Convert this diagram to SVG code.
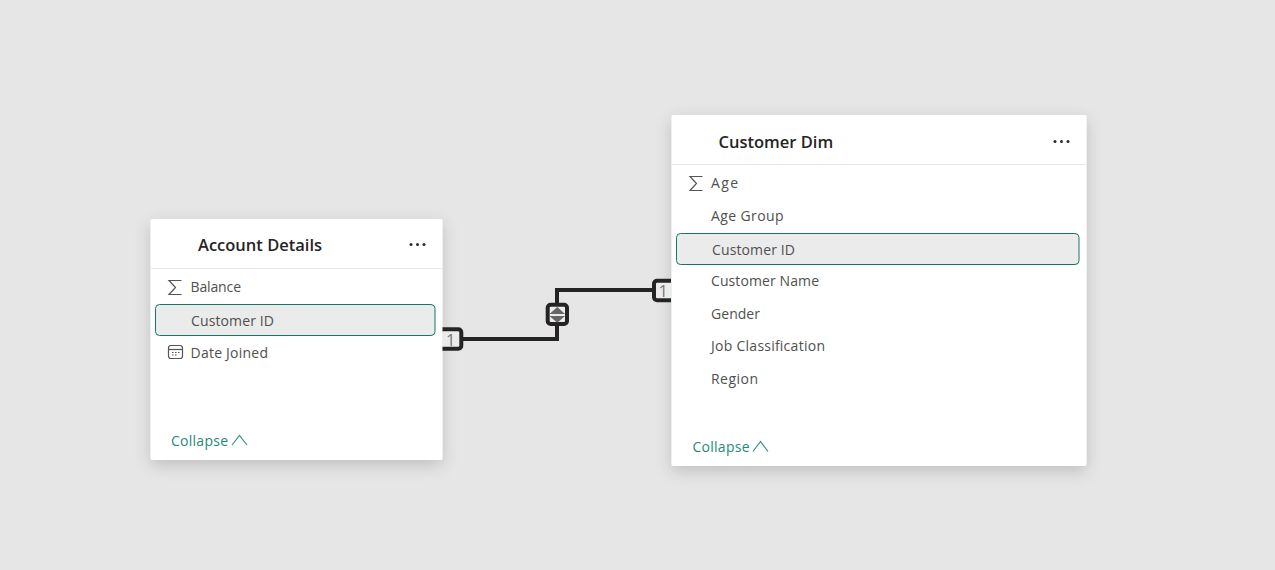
<svg xmlns="http://www.w3.org/2000/svg" width="1275" height="570" viewBox="0 0 1275 570">
<style>
text{font-family:"Open Sans","Noto Sans","Liberation Sans",sans-serif}
.card{fill:#fff}
.title{font-size:16.5px;font-weight:600;fill:#252423}
.f{font-size:14px;fill:#505050}
.sel{fill:#ebebeb;stroke:#117865;stroke-width:1}
.div{stroke:#e9e9e9;stroke-width:1}
.col{font-size:14px;fill:#1f8a78}
.chev{fill:none;stroke:#2f9484;stroke-width:1.2}
.ic{fill:none;stroke:#555;stroke-width:1.2}
.dot{fill:#2a2a2a}
.wire{fill:none;stroke:#252423;stroke-width:4}
.badge{fill:#ececec;stroke:#252423;stroke-width:4}
.one{font-size:16.500px;fill:#777;text-anchor:middle}
</style>
<defs>
<filter id="sh" x="-15%" y="-15%" width="130%" height="130%"><feDropShadow dx="0" dy="5" stdDeviation="8" flood-color="#000" flood-opacity="0.17"/></filter>
<path id="sigma" d="M13.500 2.500H1L7.500 9.500 1 16.500H13.500" class="ic"/>
</defs>
<rect width="1275" height="570" fill="#e6e6e6"/>
<g id="account-details">
<rect class="card" x="150.500" y="219" width="292" height="241" rx="2" filter="url(#sh)"/>
<text class="title" x="198" y="250.500">Account Details</text>
<g class="dot"><circle cx="411" cy="244.500" r="1.500"/><circle cx="417.500" cy="244.500" r="1.500"/><circle cx="424" cy="244.500" r="1.500"/></g>
<line class="div" x1="150.500" y1="268.500" x2="442.500" y2="268.500"/>
<use href="#sigma" x="168" y="278"/>
<text class="f" x="190.500" y="292" textLength="50.500">Balance</text>
<rect class="sel" x="155.500" y="304.500" width="279.500" height="31" rx="4"/>
<text class="f" x="191" y="325.500" textLength="83">Customer ID</text>
<g>
<rect class="ic" x="168.500" y="345.500" width="14" height="13" rx="2.500"/>
<line class="ic" x1="168.500" y1="349.500" x2="182.500" y2="349.500"/>
<path d="M172 352.500h1.500M175 352.500h1.500M178 352.500h1.500M172 355h1.500M175 355h1.500" stroke="#555" stroke-width="1.200"/>
</g>
<text class="f" x="190.500" y="357.500" textLength="77.500">Date Joined</text>
<text class="col" x="171" y="445.500" textLength="57">Collapse</text>
<path class="chev" d="M232 445 239.500 435.500 247 445"/>
</g>
<g id="customer-dim">
<rect class="card" x="671.500" y="115" width="415" height="351" rx="2" filter="url(#sh)"/>
<text class="title" x="718.500" y="147.500">Customer Dim</text>
<g class="dot"><circle cx="1055" cy="141.500" r="1.500"/><circle cx="1061.500" cy="141.500" r="1.500"/><circle cx="1068" cy="141.500" r="1.500"/></g>
<line class="div" x1="671.500" y1="164.500" x2="1086.500" y2="164.500"/>
<use href="#sigma" x="689" y="174"/>
<text class="f" x="711" y="188" textLength="27">Age</text>
<text class="f" x="711" y="220.500" textLength="72.500">Age Group</text>
<rect class="sel" x="676.500" y="233.500" width="402.500" height="31" rx="4"/>
<text class="f" x="712" y="254.500" textLength="83">Customer ID</text>
<text class="f" x="711" y="285.500" textLength="108">Customer Name</text>
<text class="f" x="711" y="318.500" textLength="49">Gender</text>
<text class="f" x="711" y="350.500" textLength="114">Job Classification</text>
<text class="f" x="711" y="383.500" textLength="47">Region</text>
<text class="col" x="692.500" y="451.500" textLength="57">Collapse</text>
<path class="chev" d="M753 451.500 760.500 441.500 768 451.500"/>
</g>
<g id="connectors">
<path class="wire" d="M461 339H557V290H654"/>
<path class="badge" d="M442.500 329.300H458.300a3 3 0 0 1 3 3V345.700a3 3 0 0 1 -3 3H442.500"/>
<text class="one" x="450.800" y="346">1</text>
<path class="badge" d="M671 280.700H657a3 3 0 0 0 -3 3V297.300a3 3 0 0 0 3 3H671"/>
<text class="one" x="663.300" y="297">1</text>
<rect class="badge" x="547.700" y="304.700" width="19.300" height="19.300" rx="3"/>
<path d="M557.300 307 565 314H549.500ZM549.500 316H565L557.300 322.800Z" fill="#666"/>
</g>
</svg>
